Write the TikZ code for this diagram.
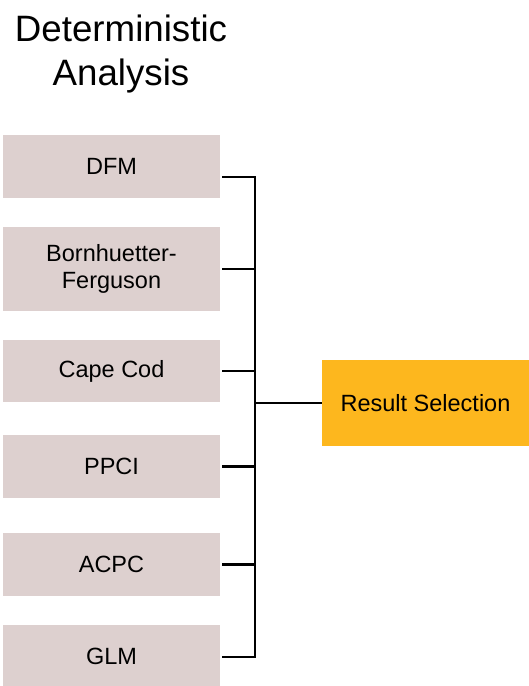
\documentclass[tikz,border=0pt]{standalone}
\usepackage{fontspec}
\setmainfont{Liberation Sans}
\definecolor{methodfill}{RGB}{221,208,207}
\definecolor{resultfill}{RGB}{253,183,30}
\tikzset{
	method/.style={fill=methodfill,minimum width=217pt,inner sep=0pt,align=center,
		font=\fontsize{23.5}{26.5}\selectfont},
	link/.style={line width=2.5pt},
}
\begin{document}
\begin{tikzpicture}[x=1pt,y=-1pt]
		\useasboundingbox (0,0) rectangle (529,686);
		\node[anchor=north,inner sep=0pt,align=center,font=\fontsize{36.7}{44}\selectfont] (title) at (121,14.5) {Deterministic\\Analysis};
		\node[method,minimum height=63pt] (dfm) at (111.5,166.5) {DFM};
		\node[method,minimum height=84pt] (bf) at (111.5,269) {Bornhuetter-\\Ferguson};
		\node[method,minimum height=62pt] (cc) at (111.5,371) {Cape Cod};
		\node[method,minimum height=63pt] (ppci) at (111.5,466.5) {PPCI};
		\node[method,minimum height=63pt] (acpc) at (111.5,564.5) {ACPC};
		\node[method,minimum height=63pt] (glm) at (111.5,656.5) {GLM};
		\node[method,fill=resultfill,minimum width=207pt,minimum height=86pt] (res) at (425.5,403) {Result Selection};
		% spine of the bracket
		\coordinate (top) at (255,177);
		\coordinate (bot) at (255,657);
		\draw[link] ([shift={(2pt,-10.5pt)}]dfm.east) -- (top) -- (bot) -- ([shift={(2pt,-0.5pt)}]glm.east);
		\draw[link] ([xshift=2pt]bf.east) -- (bf.east -| top);
		\draw[link] ([xshift=2pt]cc.east) -- (cc.east -| top);
		\draw[link] ([xshift=2pt]ppci.east) -- (ppci.east -| top);
		\draw[link] ([xshift=2pt]acpc.east) -- (acpc.east -| top);
		\draw[link] (res.west) -- (res.west -| top);
	\end{tikzpicture}
\end{document}
